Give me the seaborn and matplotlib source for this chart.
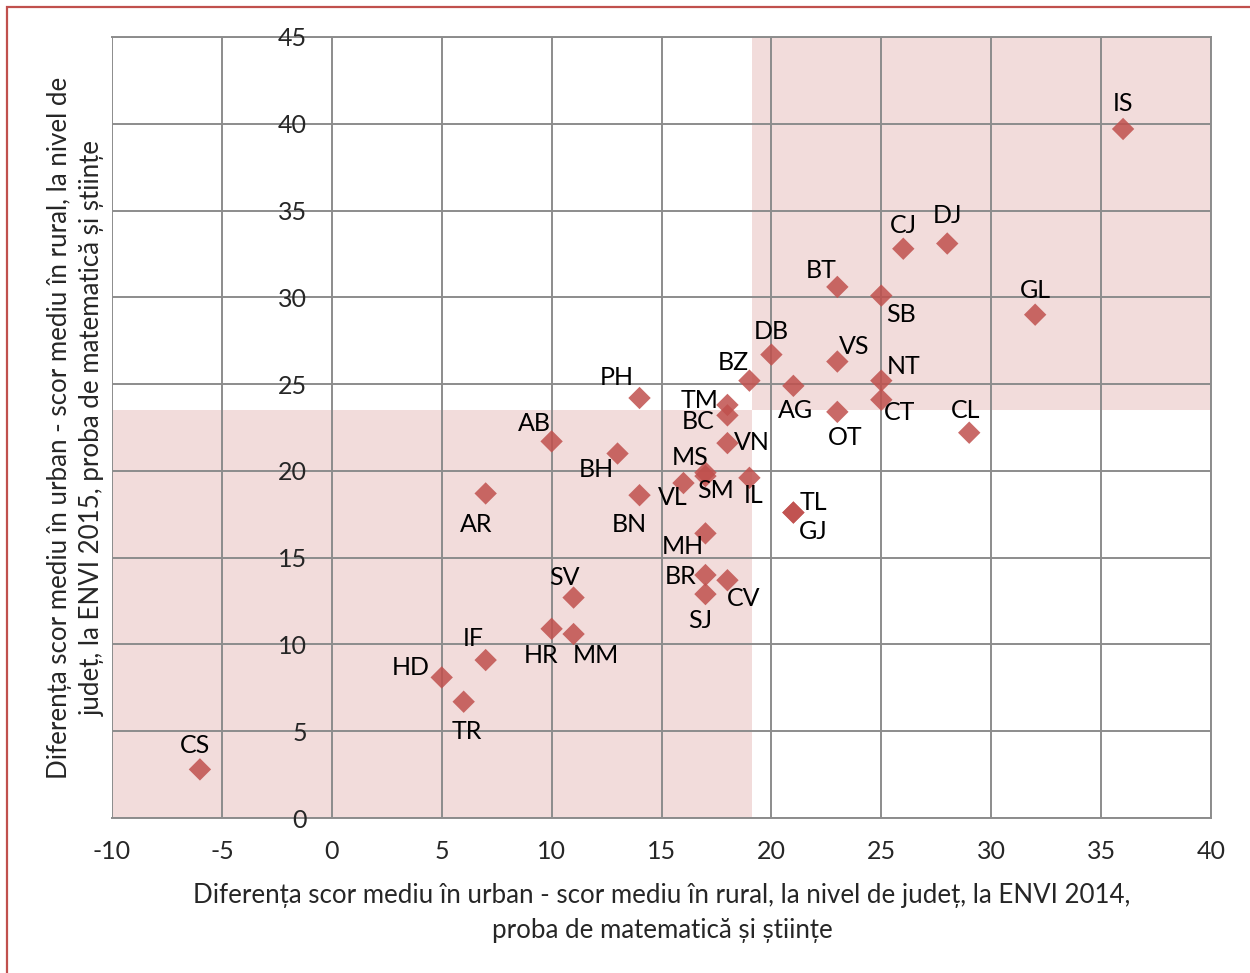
import matplotlib
matplotlib.use("Agg")
import matplotlib.pyplot as plt
import matplotlib.patches as mpatches
import seaborn as sns
import pandas as pd

# County codes and urban-rural score gaps (ENVI 2014 vs ENVI 2015)
counties = ["IS", "DJ", "CJ", "BT", "SB", "GL", "DB", "VS", "BZ", "NT",
            "AG", "CT", "OT", "CL", "PH", "TM", "BC", "VN", "AB", "BH",
            "MS", "SM", "VL", "IL", "AR", "BN", "TL", "GJ", "MH", "BR",
            "CV", "SJ", "SV", "HR", "MM", "IF", "HD", "TR", "CS"]
gap_2014 = [36, 28, 26, 23, 25, 32, 20, 23, 19, 25,
            21, 25, 23, 29, 14, 18, 18, 18, 10, 13,
            17, 17, 16, 19, 7, 14, 21, 21, 17, 17,
            18, 17, 11, 10, 11, 7, 5, 6, -6]
gap_2015 = [39.7, 33.1, 32.8, 30.6, 30.1, 29.0, 26.7, 26.3, 25.2, 25.2,
            24.9, 24.1, 23.4, 22.2, 24.2, 23.8, 23.2, 21.6, 21.7, 21.0,
            19.9, 19.7, 19.3, 19.6, 18.7, 18.6, 17.6, 17.6, 16.4, 14.0,
            13.7, 12.9, 12.7, 10.9, 10.6, 9.1, 8.1, 6.7, 2.8]

# Average gaps separating the shaded quadrants
mean_2014 = 19.1
mean_2015 = 23.5

x_ticks = [-10, -5, 0, 5, 10, 15, 20, 25, 30, 35, 40]
y_ticks = [0, 5, 10, 15, 20, 25, 30, 35, 40, 45]

x_title = ("Diferența scor mediu în urban - scor mediu în rural, la nivel de județ, la ENVI 2014,\n"
           "proba de matematică și științe")
y_title = ("Diferența scor mediu în urban - scor mediu în rural, la nivel de\n"
           "județ, la ENVI 2015, proba de matematică și științe")

# Label offsets (pixels) around each marker
label_dx = [0, 0, 0, -16, 20, 0, 0, 17, -16, 22,
            2, 18, 8, -4, -23, -28, -29, 24, -17, -21,
            -15, 10, -11, 4, -9, -10, 20, 20, -23, -25,
            16, -5, -9, -11, 22, -12, -31, 3, -5]
label_dy = [25, 28, 23, 16, -19, 24, 23, 15, 18, 14,
            -25, -13, -26, 22, 20, 4, -6, 1, 18, -16,
            15, -14, -14, -18, -31, -29, 10, -19, -13, -1,
            -18, -26, 20, -27, -21, 22, 10, -30, 24]

df = pd.DataFrame({"county": counties, "x": gap_2014, "y": gap_2015})

sns.set_style("white")
font = ["Lato", "DejaVu Sans"]
plt.rcParams["font.family"] = font

fig = plt.figure(figsize=(12.5, 9.73), dpi=100)
ax = fig.add_axes([112 / 1250, 1 - 818 / 973, 1099 / 1250, 781 / 973])

ax.set_xlim(-10, 40)
ax.set_ylim(0, 45)

shade = "#f2dcdb"
ax.add_patch(mpatches.Rectangle((-10, 0), mean_2014 + 10, mean_2015,
                                facecolor=shade, edgecolor="none", zorder=0.2))
ax.add_patch(mpatches.Rectangle((mean_2014, mean_2015), 40 - mean_2014, 45 - mean_2015,
                                facecolor=shade, edgecolor="none", zorder=0.2))

sns.scatterplot(data=df, x="x", y="y", marker="D", s=130, color="#c0504d",
                alpha=0.85, edgecolor="none", linewidth=0, ax=ax, zorder=3)

for name, xv, yv, dx, dy in zip(counties, gap_2014, gap_2015, label_dx, label_dy):
    ax.annotate(name, (xv, yv), xytext=(dx, dy), textcoords="offset pixels",
                ha="center", va="center", fontsize=18, color="black", zorder=4)

ax.set_xticks(x_ticks)
ax.set_yticks(y_ticks)
ax.set_xticklabels([str(v) for v in x_ticks])
ax.set_yticklabels([str(v) for v in y_ticks])
ax.grid(True, color="#8c8c8c", linewidth=1.4, zorder=1)
ax.set_axisbelow(False)
for gl in ax.get_xgridlines() + ax.get_ygridlines():
    gl.set_zorder(1)

# y axis crosses at x = 0
ax.spines["left"].set_position(("data", 0))
ax.spines["left"].set_visible(False)
for side in ["top", "right", "bottom"]:
    ax.spines[side].set_color("#8c8c8c")
    ax.spines[side].set_linewidth(1.4)
ax.tick_params(axis="both", length=0, labelsize=18)
ax.tick_params(axis="y", pad=18)
ax.tick_params(axis="x", pad=16)

ax.set_xlabel("")
ax.set_ylabel("")
fig.text(662 / 1250, 1 - 913 / 973, x_title, ha="center", va="center",
         fontsize=18.6, linespacing=1.5)
fig.text(76 / 1250, 1 - 428 / 973, y_title, rotation=90, ha="center", va="center",
         fontsize=18.6, linespacing=1.4)

# Outer frame
fig.patches.append(mpatches.Rectangle((7 / 1250, -0.05), 1.2, 1 - 7 / 973 + 0.05,
                                      transform=fig.transFigure, fill=False,
                                      edgecolor="#c0504d", linewidth=1.6))

fig.savefig("out.png", dpi=100)
